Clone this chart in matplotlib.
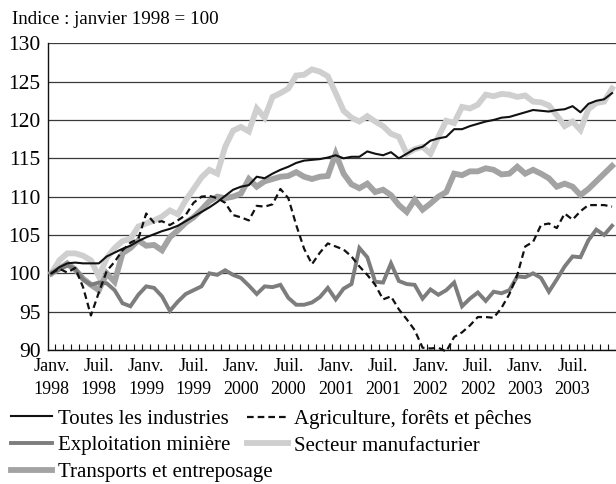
import numpy as np
import matplotlib
matplotlib.use("Agg")
import matplotlib.pyplot as plt
from matplotlib.ticker import FixedLocator, NullFormatter

plt.rcParams['font.family'] = ['Liberation Serif', 'DejaVu Serif']

title = "Indice : janvier 1998 = 100"
tick_labels = ["Janv.\n1998", "Juil.\n1998", "Janv.\n1999", "Juil.\n1999",
               "Janv.\n2000", "Juil.\n2000", "Janv.\n2001", "Juil.\n2001",
               "Janv.\n2002", "Juil.\n2002", "Janv.\n2003", "Juil.\n2003"]
series_names = ["Toutes les industries", "Agriculture, forêts et pêches",
                "Exploitation minière", "Secteur manufacturier",
                "Transports et entreposage"]

toutes = [100, 100.8, 101.3, 101.4, 101.3, 101.3, 101.3, 102.2, 102.7, 103.2,
          103.6, 104.2, 104.7, 105.1, 105.5, 105.8, 106.2, 106.8, 107.4, 108.0,
          108.6, 109.3, 110.1, 110.9, 111.3, 111.5, 112.6, 112.4, 113.0, 113.5,
          113.9, 114.4, 114.7, 114.8, 114.9, 115.1, 115.4, 115.0, 115.2, 115.2,
          115.9, 115.6, 115.4, 115.8, 115.0, 115.6, 116.2, 116.5, 117.3, 117.6,
          117.8, 118.8, 118.8, 119.2, 119.5, 119.8, 120.0, 120.3, 120.4, 120.7,
          121.0, 121.3, 121.2, 121.1, 121.3, 121.4, 121.8, 121.0, 122.1, 122.5,
          122.7, 123.5]
agriculture = [100, 100.6, 100.1, 100.7, 98.2, 94.5, 97.5, 100.3, 101.5, 103.0,
               104.0, 104.5, 107.8, 106.6, 106.8, 106.3, 106.9, 107.6, 109.2, 110.0,
               110.1, 109.8, 109.2, 107.6, 107.3, 106.9, 108.8, 108.7, 109.0, 111.0,
               109.8, 106.3, 103.2, 101.2, 102.7, 103.9, 103.5, 103.1, 102.2, 100.9,
               99.8, 98.5, 96.6, 97.0, 95.3, 94.0, 92.6, 90.3, 90.2, 90.3,
               89.8, 91.7, 92.3, 93.2, 94.3, 94.3, 94.2, 95.5, 97.3, 99.8,
               103.5, 104.1, 106.3, 106.5, 105.9, 107.8, 107.0, 108.1, 108.9, 108.9,
               108.9, 108.7]
exploitation = [100, 100.5, 101.0, 100.6, 99.2, 98.5, 98.8, 98.7, 97.8, 96.1,
                95.7, 97.2, 98.3, 98.1, 97.0, 95.1, 96.3, 97.3, 97.8, 98.3,
                100.0, 99.8, 100.4, 99.8, 99.4, 98.4, 97.3, 98.3, 98.2, 98.5,
                96.8, 95.9, 95.9, 96.2, 96.9, 98.1, 96.6, 98.0, 98.6, 103.3,
                102.1, 98.9, 98.8, 101.3, 99.0, 98.6, 98.5, 96.7, 97.9, 97.2,
                97.8, 98.8, 95.7, 96.7, 97.5, 96.4, 97.6, 97.4, 97.8, 99.6,
                99.5, 100.0, 99.4, 97.6, 99.2, 100.9, 102.2, 102.1, 104.3, 105.7,
                105.0, 106.2]
manufacturier = [100, 101.7, 102.6, 102.6, 102.3, 101.7, 99.6, 102.0, 103.3, 104.2,
                 104.5, 106.1, 106.5, 106.9, 107.4, 108.2, 107.7, 109.5, 111.0, 112.5,
                 113.5, 113.0, 116.5, 118.6, 119.1, 118.5, 121.5, 120.3, 123.0, 123.5,
                 124.1, 125.8, 125.9, 126.6, 126.3, 125.7, 123.5, 121.2, 120.3, 119.8,
                 120.5, 119.8, 119.2, 118.2, 117.8, 115.6, 116.2, 116.5, 115.6, 117.8,
                 119.9, 119.6, 121.7, 121.5, 122.0, 123.3, 123.1, 123.4, 123.3, 123.0,
                 123.2, 122.4, 122.3, 121.9, 120.6, 119.2, 119.8, 118.7, 121.4, 122.2,
                 122.4, 124.1]
transports = [100, 100.6, 101.3, 100.5, 99.3, 98.5, 97.8, 100.0, 98.9, 102.6,
              103.3, 104.3, 103.6, 103.7, 103.0, 104.7, 105.6, 106.6, 107.3, 108.3,
              109.4, 110.0, 109.8, 110.0, 110.4, 112.3, 111.3, 112.0, 112.3, 112.6,
              112.7, 113.2, 112.6, 112.3, 112.6, 112.7, 115.6, 113.0, 111.6, 111.1,
              111.7, 110.6, 110.9, 110.2, 108.9, 108.0, 109.6, 108.3, 109.1, 110.0,
              110.6, 113.0, 112.8, 113.3, 113.3, 113.7, 113.5, 112.9, 113.0, 113.9,
              113.0, 113.5, 113.0, 112.4, 111.3, 111.7, 111.3, 110.2, 111.0, 112.0,
              113.0, 114.0]

n = len(toutes)
x = np.arange(n) + 0.5

fig = plt.figure(figsize=(6.16, 4.84), dpi=100)
ax = fig.add_axes([47.5 / 616, 1 - 350 / 484, 1 - 47.5 / 616, (350 - 43.3) / 484])

l_man, = ax.plot(x, manufacturier, color='#cfcfcf', lw=4.2, solid_joinstyle='miter', zorder=2)
l_tra, = ax.plot(x, transports, color='#a3a3a3', lw=4.2, solid_joinstyle='miter', zorder=3)
l_exp, = ax.plot(x, exploitation, color='#7d7d7d', lw=2.8, solid_joinstyle='miter', zorder=4)
l_agr, = ax.plot(x, agriculture, color='#111111', lw=1.6, dashes=(3.0, 1.8), zorder=5, clip_on=False)
l_tou, = ax.plot(x, toutes, color='#111111', lw=1.5, zorder=6)

ax.set_xlim(0, n)
ax.set_ylim(90, 130)
ax.set_yticks(np.arange(90, 131, 5))
ax.yaxis.grid(True, color='#3a3a3a', lw=0.9)
ax.set_axisbelow(True)
ax.tick_params(axis='y', length=0, pad=5, labelsize=15.5)

label_pos = x[::6]
ax.set_xticks(label_pos)
ax.set_xticklabels(tick_labels, linespacing=1.45)
ax.tick_params(axis='x', which='major', length=0, pad=6, labelsize=13)
ax.xaxis.set_minor_locator(FixedLocator(np.arange(1, n)))
ax.xaxis.set_minor_formatter(NullFormatter())
ax.tick_params(axis='x', which='minor', direction='in', length=4, width=0.8, color='#111111')

for s in ['top', 'right']:
    ax.spines[s].set_visible(False)
ax.spines['left'].set_color('#111111')
ax.spines['bottom'].set_color('#111111')
ax.spines['left'].set_linewidth(1.0)
ax.spines['bottom'].set_linewidth(1.0)

fig.text(12 / 616, 1 - 20 / 484, title, fontsize=13.7, va='center', ha='left')

leg_kw = dict(loc='upper left', frameon=False, fontsize=15, handlelength=1.95,
              handletextpad=0.3, labelspacing=0.34, borderpad=0, borderaxespad=0)
fig.legend([l_tou, l_exp, l_tra], [series_names[0], series_names[2], series_names[4]],
           bbox_to_anchor=(11 / 616, 1 - 409 / 484), **leg_kw)
fig.legend([l_agr, l_man], [series_names[1], series_names[3]],
           bbox_to_anchor=(247 / 616, 1 - 409 / 484), **leg_kw)

fig.savefig("out.png", dpi=100)
